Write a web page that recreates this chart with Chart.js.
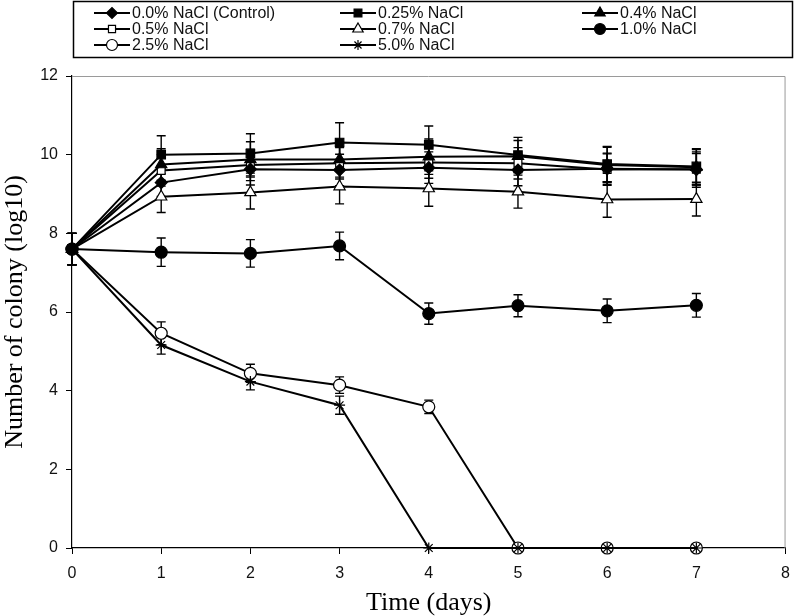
<!DOCTYPE html>
<html>
<head>
<meta charset="utf-8">
<script src="https://cdn.jsdelivr.net/npm/chart.js@4"></script>
<style>
html,body{margin:0;padding:0;background:#fff;}
canvas{display:block;}
</style>
</head>
<body>
<canvas id="c" width="800" height="616"></canvas>
<script>
// ---- data ----
const days = [0, 1, 2, 3, 4, 5, 6, 7];
const seriesNames = ["0.0% NaCl (Control)", "0.25% NaCl", "0.4% NaCl", "0.5% NaCl", "0.7% NaCl", "1.0% NaCl", "2.5% NaCl", "5.0% NaCl"];
const nacl00 = [7.6, 9.29, 9.63, 9.61, 9.67, 9.61, 9.64, 9.62];
const nacl025 = [7.6, 10.0, 10.03, 10.31, 10.25, 9.99, 9.76, 9.70];
const nacl04 = [7.6, 9.75, 9.88, 9.88, 9.95, 9.96, 9.74, 9.68];
const nacl05 = [7.6, 9.6, 9.74, 9.78, 9.80, 9.78, 9.62, 9.63];
const nacl07 = [7.6, 8.93, 9.04, 9.19, 9.14, 9.06, 8.86, 8.87];
const nacl10 = [7.6, 7.52, 7.49, 7.68, 5.96, 6.16, 6.03, 6.17];
const nacl25 = [7.6, 5.46, 4.44, 4.14, 3.59, 0, 0, 0];
const nacl50 = [7.6, 5.16, 4.23, 3.63, 0, 0, 0, 0];
const err00 = [0.4, 0.35, 0.4, 0.4, 0.4, 0.4, 0.4, 0.45];
const err025 = [0.4, 0.48, 0.5, 0.5, 0.48, 0.45, 0.45, 0.45];
const err04 = [0.4, 0.4, 0.45, 0.45, 0.45, 0.4, 0.45, 0.45];
const err05 = [0.4, 0.4, 0.4, 0.4, 0.4, 0.4, 0.4, 0.4];
const err07 = [0.4, 0.4, 0.42, 0.44, 0.45, 0.42, 0.45, 0.43];
const err10 = [0.4, 0.36, 0.35, 0.35, 0.27, 0.28, 0.3, 0.3];
const err25 = [0.4, 0.29, 0.23, 0.21, 0.17, 0, 0, 0];
const err50 = [0.4, 0.23, 0.21, 0.23, 0, 0, 0, 0];
const xTicks = [0, 1, 2, 3, 4, 5, 6, 7, 8];
const yTicks = [0, 2, 4, 6, 8, 10, 12];

const values = [nacl00, nacl025, nacl04, nacl05, nacl07, nacl10, nacl25, nacl50];
const errors = [err00, err025, err04, err05, err07, err10, err25, err50];
const styles = [
  {ps: 'rectRot', bg: '#000', r: 6},
  {ps: 'rect', bg: '#000', r: 6},
  {ps: 'triangle', bg: '#000', r: 6.5},
  {ps: 'rect', bg: '#fff', r: 5.5},
  {ps: 'triangle', bg: '#fff', r: 6.5},
  {ps: 'circle', bg: '#000', r: 6},
  {ps: 'circle', bg: '#fff', r: 6},
  {ps: 'star', bg: '#fff', r: 5.5}
];

const datasets = values.map((vals, i) => ({
  label: seriesNames[i],
  data: days.map((d, j) => ({x: d, y: vals[j]})),
  order: i === 7 ? -1 : i,
  borderColor: '#000',
  borderWidth: 2,
  pointStyle: styles[i].ps,
  pointRadius: styles[i].r,
  pointBackgroundColor: styles[i].bg,
  pointBorderColor: '#000',
  pointBorderWidth: 1.2,
  tension: 0,
  clip: false,
  fill: false
}));

const tickFont = {family: "'Liberation Sans', Arial, sans-serif", size: 16};
const titleFont = {family: "'Liberation Serif', 'Times New Roman', serif", size: 26, lineHeight: 1.0};

const errorBars = {
  id: 'errorBars',
  beforeDatasetsDraw(chart) {
    const ctx = chart.ctx;
    const xs = chart.scales.x, ys = chart.scales.y;
    ctx.save();
    ctx.strokeStyle = '#000';
    ctx.lineWidth = 1.4;
    errors.forEach((errs, i) => {
      errs.forEach((e, j) => {
        if (!e) return;
        const x = xs.getPixelForValue(days[j]);
        const y1 = ys.getPixelForValue(values[i][j] + e);
        const y2 = ys.getPixelForValue(values[i][j] - e);
        ctx.beginPath();
        ctx.moveTo(x, y1); ctx.lineTo(x, y2);
        ctx.moveTo(x - 4.5, y1); ctx.lineTo(x + 4.5, y1);
        ctx.moveTo(x - 4.5, y2); ctx.lineTo(x + 4.5, y2);
        ctx.stroke();
      });
    });
    ctx.restore();
  }
};

const frameAndLegend = {
  id: 'frameAndLegend',
  beforeDatasetsDraw(chart) {
    const ctx = chart.ctx;
    const a = chart.chartArea;
    ctx.save();
    ctx.strokeStyle = '#9a9a9a';
    ctx.lineWidth = 1;
    ctx.beginPath();
    ctx.moveTo(a.left, a.top + 0.5);
    ctx.lineTo(a.right - 0.5, a.top + 0.5);
    ctx.lineTo(a.right - 0.5, a.bottom);
    ctx.stroke();
    ctx.restore();
  },
  afterDraw(chart) {
    const ctx = chart.ctx;
    ctx.save();
    ctx.strokeStyle = '#000';
    ctx.lineWidth = 1.5;
    ctx.strokeRect(73.5, 1.5, 719, 56);
    const colX = [94, 340, 582];
    const rowY = [13, 29, 45];
    ctx.font = "16px 'Liberation Sans', Arial, sans-serif";
    ctx.textBaseline = 'middle';
    ctx.textAlign = 'left';
    seriesNames.forEach((name, i) => {
      const x0 = colX[i % 3], y = rowY[Math.floor(i / 3)];
      ctx.strokeStyle = '#000';
      ctx.lineWidth = 2;
      ctx.beginPath();
      ctx.moveTo(x0, y); ctx.lineTo(x0 + 36, y);
      ctx.stroke();
      ctx.fillStyle = styles[i].bg;
      ctx.strokeStyle = '#000';
      ctx.lineWidth = 1.2;
      Chart.helpers.drawPoint(ctx, {pointStyle: styles[i].ps, radius: styles[i].r - 0.5, borderWidth: 1.2, rotation: 0}, x0 + 18, y);
      ctx.fillStyle = '#111';
      ctx.fillText(name, x0 + 38, y + 1);
    });
    ctx.restore();
  }
};

new Chart(document.getElementById('c'), {
  type: 'line',
  data: {datasets},
  options: {
    responsive: false,
    animation: false,
    events: [],
    layout: {padding: {top: 76, right: 4, left: 0, bottom: 0}},
    plugins: {legend: {display: false}, tooltip: {enabled: false}},
    scales: {
      x: {
        type: 'linear', min: 0, max: 8,
        afterBuildTicks: s => { s.ticks = xTicks.map(v => ({value: v})); },
        afterFit: s => { s.height = 68; },
        ticks: {font: tickFont, color: '#111', padding: 10, maxRotation: 0, autoSkip: false},
        grid: {drawOnChartArea: false, drawTicks: true, tickLength: 6, color: '#000'},
        border: {color: '#000', width: 1.2},
        title: {display: true, text: 'Time (days)', font: titleFont, color: '#000', padding: {top: 0, bottom: 0}}
      },
      y: {
        type: 'linear', min: 0, max: 12,
        afterBuildTicks: s => { s.ticks = yTicks.map(v => ({value: v})); },
        afterFit: s => { s.width = 72; },
        ticks: {font: tickFont, color: '#111', padding: 8, autoSkip: false},
        grid: {drawOnChartArea: false, drawTicks: true, tickLength: 6, color: '#000'},
        border: {color: '#000', width: 1.2},
        title: {display: true, text: 'Number of colony (log10)', font: titleFont, color: '#000', padding: {top: 2, bottom: 0}}
      }
    }
  },
  plugins: [errorBars, frameAndLegend]
});
</script>
</body>
</html>
